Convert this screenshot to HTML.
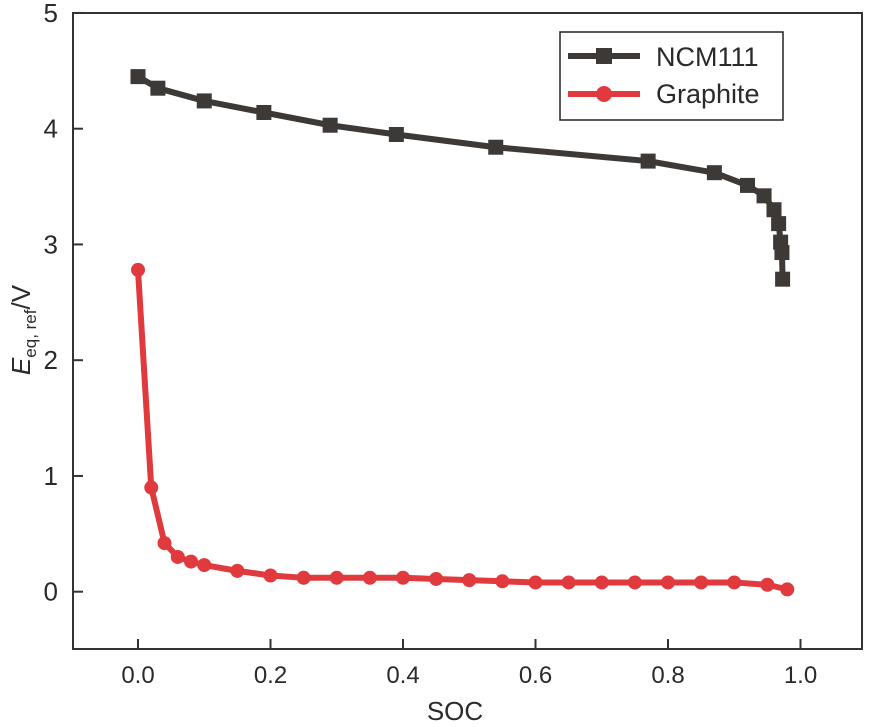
<!DOCTYPE html>
<html><head><meta charset="utf-8"><style>
body{margin:0;background:#fff;}
svg text{font-family:"Liberation Sans",sans-serif;fill:#2a2a2a;}
</style></head><body>
<svg id="c" width="873" height="722" viewBox="0 0 873 722">
<rect x="73" y="13" width="789" height="636" fill="none" stroke="#333" stroke-width="2"/>
<g id="axes"></g>
<g id="series"></g>
<text x="455" y="720" font-size="26" text-anchor="middle">SOC</text>
<text transform="translate(30,330) rotate(-90)" font-size="26" text-anchor="middle"><tspan font-style="italic">E</tspan><tspan font-size="17" dy="6">eq, ref</tspan><tspan dy="-6">/V</tspan></text>
<g>
<rect x="560" y="32" width="223" height="88" fill="#fff" stroke="#222" stroke-width="1.5"/>
<line x1="568" y1="56" x2="640" y2="56" stroke="#3d3937" stroke-width="6"/>
<rect x="596" y="48" width="16" height="16" fill="#3d3937"/>
<text x="656" y="66" font-size="27">NCM111</text>
<line x1="568" y1="94" x2="640" y2="94" stroke="#e03a3e" stroke-width="6"/>
<circle cx="604" cy="94" r="8" fill="#e03a3e"/>
<text x="656" y="103" font-size="27">Graphite</text>
</g>
</svg>
<script>
const xTicks=[0.0,0.2,0.4,0.6,0.8,1.0];
const xTickLabels=["0.0","0.2","0.4","0.6","0.8","1.0"];
const yTicks=[0,1,2,3,4,5];
const yTickLabels=["0","1","2","3","4","5"];
const ncmX=[0,0.03,0.1,0.19,0.29,0.39,0.54,0.77,0.87,0.92,0.945,0.96,0.967,0.97,0.972,0.973];
const ncmY=[4.45,4.35,4.24,4.14,4.03,3.95,3.84,3.72,3.62,3.51,3.42,3.3,3.18,3.02,2.93,2.70];
const grX=[0,0.02,0.04,0.06,0.08,0.1,0.15,0.2,0.25,0.3,0.35,0.4,0.45,0.5,0.55,0.6,0.65,0.7,0.75,0.8,0.85,0.9,0.95,0.98];
const grY=[2.78,0.9,0.42,0.3,0.26,0.23,0.18,0.14,0.12,0.12,0.12,0.12,0.11,0.1,0.09,0.08,0.08,0.08,0.08,0.08,0.08,0.08,0.06,0.02];
const NS="http://www.w3.org/2000/svg";
function sx(v){return 138+v*662.5;}
function sy(v){return 591.7-v*115.75;}
function mk(t,a,p){const e=document.createElementNS(NS,t);for(const k in a)e.setAttribute(k,a[k]);p.appendChild(e);return e;}
const ax=document.getElementById('axes');
xTicks.forEach((v,i)=>{
 const l=mk('line',{x1:sx(v),x2:sx(v),y1:649,y2:639,stroke:'#333','stroke-width':2},ax);
 
 
 const t=mk('text',{x:sx(v),y:683,'font-size':24,'text-anchor':'middle'},ax);t.textContent=xTickLabels[i];
 
 
});
yTicks.forEach((v,i)=>{
 const l=mk('line',{x1:73,x2:83,y1:sy(v),y2:sy(v),stroke:'#333','stroke-width':2},ax);
 
 
 const t=mk('text',{x:58,y:sy(v)+9,'font-size':26,'text-anchor':'end'},ax);t.textContent=yTickLabels[i];
 
 
});
const sg=document.getElementById('series');
function series(xs,ys,col,shape,name){
 const pl=mk('polyline',{points:xs.map((x,i)=>sx(x)+','+sy(ys[i])).join(' '),fill:'none',stroke:col,'stroke-width':6,'stroke-linejoin':'round'},sg);
 
 
 xs.forEach((x,i)=>{
  let m;
  if(shape==='sq')m=mk('rect',{x:sx(x)-7.5,y:sy(ys[i])-7.5,width:15,height:15,fill:col},sg);
  else m=mk('circle',{cx:sx(x),cy:sy(ys[i]),r:7,fill:col},sg);
  
  
 });
}
series(ncmX,ncmY,'#3d3937','sq','ncm111');
series(grX,grY,'#e03a3e','ci','graphite');
</script>
</body></html>
